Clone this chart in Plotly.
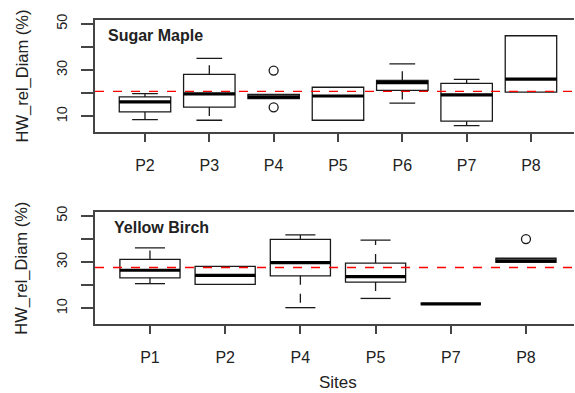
import plotly.graph_objects as go

# ---------------- data ----------------
sm_sites = ["P2", "P3", "P4", "P5", "P6", "P7", "P8"]
sm_lower = [8.6, 8.3, 17.7, 8.3, 15.7, 6.0, 20.5]
sm_q1 = [11.9, 14.0, 17.7, 8.3, 21.2, 7.9, 20.5]
sm_med = [16.3, 19.7, 18.4, 18.8, 24.6, 19.3, 26.1]
sm_q3 = [18.4, 28.2, 19.5, 22.6, 25.6, 24.3, 44.9]
sm_upper = [19.8, 35.1, 19.5, 22.6, 32.7, 26.0, 44.9]
sm_out_site = ["P4", "P4"]
sm_out_val = [29.8, 13.9]
sm_ref = 20.8

yb_sites = ["P1", "P2", "P4", "P5", "P7", "P8"]
yb_lower = [20.7, 20.4, 10.3, 14.3, 11.9, 29.9]
yb_q1 = [23.2, 20.4, 24.1, 21.4, 11.9, 29.9]
yb_med = [26.5, 24.3, 29.8, 23.7, 11.9, 30.6]
yb_q3 = [31.2, 28.2, 39.9, 29.6, 11.9, 31.7]
yb_upper = [36.2, 28.2, 41.8, 39.5, 11.9, 31.7]
yb_out_site = ["P8"]
yb_out_val = [40.0]
yb_ref = 27.7

y_ticks = [10, 20, 30, 40, 50]
y_ticktext = ["10", "", "30", "", "50"]

FONT = "Liberation Sans, Arial, Helvetica, sans-serif"
W, H = 575, 393
AXC = "#444444"
DOM_END = 0.9985
plot_w = W * DOM_END - 95

sm_xrange = [0.223, 0.223 + plot_w / 64.33]
yb_xrange = [0.269, 0.269 + plot_w / 75.2]

fig = go.Figure()


def add_panel(sites, lower, q1, med, q3, upper, out_site, out_val, ref, xr, xa, ya):
    pos = list(range(1, len(sites) + 1))
    fig.add_trace(go.Box(
        x=pos, q1=q1, median=med, q3=q3, lowerfence=q1, upperfence=q3,
        width=0.8, whiskerwidth=0, fillcolor="white",
        line=dict(color="#1a1a1a", width=1.3), boxpoints=False,
        xaxis=xa, yaxis=ya, showlegend=False, hoverinfo="skip"))
    wx, wy, cx, cy = [], [], [], []
    for p, lo, a, b, hi in zip(pos, lower, q1, q3, upper):
        if hi > b:
            wx += [p, p, None]; wy += [b, hi, None]
            cx += [p - 0.2, p + 0.2, None]; cy += [hi, hi, None]
        if lo < a:
            wx += [p, p, None]; wy += [a, lo, None]
            cx += [p - 0.2, p + 0.2, None]; cy += [lo, lo, None]
    fig.add_trace(go.Scatter(x=wx, y=wy, mode="lines",
                             line=dict(color="#1a1a1a", width=1.3, dash="dash"),
                             xaxis=xa, yaxis=ya, showlegend=False, hoverinfo="skip"))
    fig.add_trace(go.Scatter(x=cx, y=cy, mode="lines",
                             line=dict(color="#1a1a1a", width=1.3),
                             xaxis=xa, yaxis=ya, showlegend=False, hoverinfo="skip"))
    mx, my = [], []
    for p, m in zip(pos, med):
        mx += [p - 0.4, p + 0.4, None]; my += [m, m, None]
    fig.add_trace(go.Scatter(x=mx, y=my, mode="lines",
                             line=dict(color="black", width=3.2),
                             xaxis=xa, yaxis=ya, showlegend=False, hoverinfo="skip"))
    ox = [sites.index(s) + 1 for s in out_site]
    fig.add_trace(go.Scatter(x=ox, y=out_val, mode="markers",
                             marker=dict(symbol="circle-open", size=9,
                                         color="#1a1a1a", line=dict(width=1.3)),
                             xaxis=xa, yaxis=ya, showlegend=False, hoverinfo="skip"))
    fig.add_trace(go.Scatter(x=xr, y=[ref, ref], mode="lines",
                             line=dict(color="red", width=1.3, dash="dash"),
                             xaxis=xa, yaxis=ya, showlegend=False, hoverinfo="skip"))


add_panel(sm_sites, sm_lower, sm_q1, sm_med, sm_q3, sm_upper, sm_out_site, sm_out_val,
          sm_ref, sm_xrange, "x", "y")
add_panel(yb_sites, yb_lower, yb_q1, yb_med, yb_q3, yb_upper, yb_out_site, yb_out_val,
          yb_ref, yb_xrange, "x2", "y2")

left = 95 / W
common_x = dict(showline=True, mirror=True, linecolor=AXC, linewidth=1.5,
                ticks="outside", ticklen=8, tickcolor=AXC, tickwidth=1.5,
                showgrid=False, zeroline=False, ticklabelstandoff=10,
                tickfont=dict(family=FONT, size=16, color="#222"))
common_y = dict(showline=True, mirror=False, linecolor=AXC, linewidth=1.5,
                ticks="outside", ticklen=12, tickcolor=AXC, tickwidth=1.5,
                showgrid=False, zeroline=False, tickangle=-90,
                tickvals=y_ticks, ticktext=y_ticktext, range=[3.2, 51.8],
                ticklabelstandoff=8,
                tickfont=dict(family=FONT, size=14.5, color="#222"))

sm_n = len(sm_sites)
yb_n = len(yb_sites)
fig.update_layout(
    width=W, height=H, margin=dict(l=0, r=0, t=0, b=0),
    paper_bgcolor="white", plot_bgcolor="white",
    xaxis=dict(domain=[left, DOM_END], range=sm_xrange,
               tickvals=list(range(1, sm_n + 1)), ticktext=sm_sites,
               anchor="y", **common_x),
    yaxis=dict(domain=[1 - 128 / H, 1 - 14 / H], anchor="x", **common_y),
    xaxis2=dict(domain=[left, DOM_END], range=yb_xrange,
                tickvals=list(range(1, yb_n + 1)), ticktext=yb_sites,
                anchor="y2", **common_x),
    yaxis2=dict(domain=[1 - 323 / H, 1 - 209 / H], anchor="x2", **common_y),
    annotations=[
        dict(text="<b>Sugar Maple</b>", xref="paper", yref="paper", x=106 / W, y=1 - 30 / H,
             xanchor="left", yanchor="middle", showarrow=False,
             font=dict(family=FONT, size=16, color="#222")),
        dict(text="<b>Yellow Birch</b>", xref="paper", yref="paper", x=112 / W, y=1 - 225 / H,
             xanchor="left", yanchor="middle", showarrow=False,
             font=dict(family=FONT, size=16, color="#222")),
        dict(text="HW_rel_Diam (%)", xref="paper", yref="paper", x=22 / W, y=1 - 71.5 / H,
             xanchor="center", yanchor="middle", textangle=-90, showarrow=False,
             font=dict(family=FONT, size=16.5, color="#222")),
        dict(text="HW_rel_Diam (%)", xref="paper", yref="paper", x=22 / W, y=1 - 266.7 / H,
             xanchor="center", yanchor="middle", textangle=-90, showarrow=False,
             font=dict(family=FONT, size=16.5, color="#222")),
        dict(text="Sites", xref="paper", yref="paper", x=338 / W, y=1 - 382 / H,
             xanchor="center", yanchor="middle", showarrow=False,
             font=dict(family=FONT, size=17, color="#222")),
    ],
)

fig.write_html("out.html")
